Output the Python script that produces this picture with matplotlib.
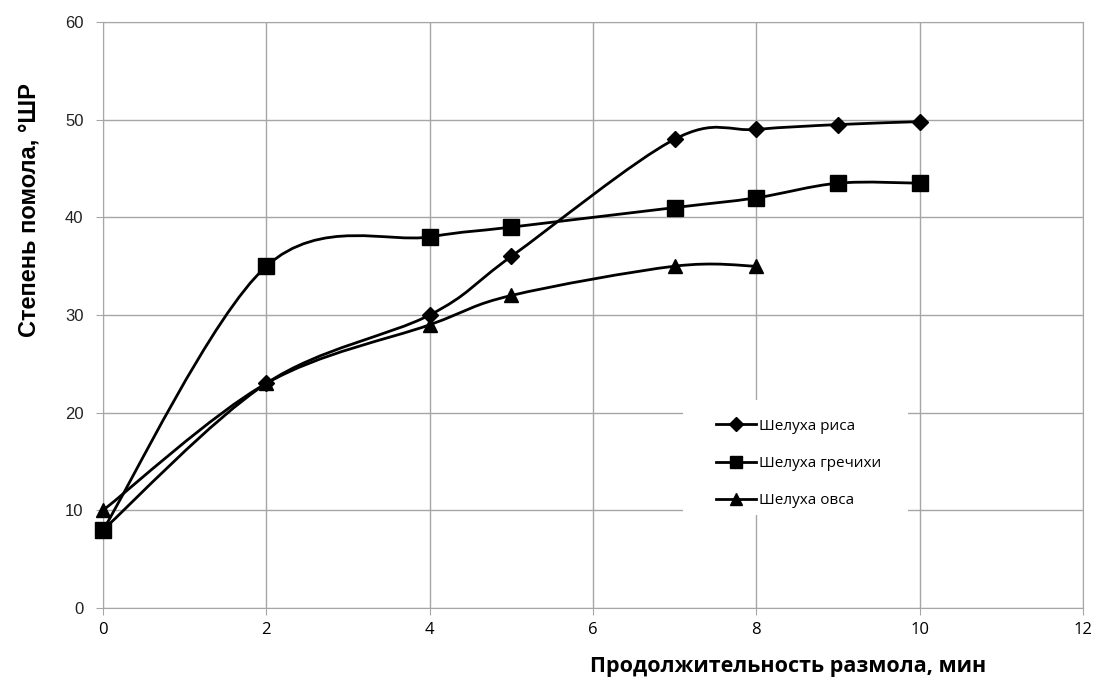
import numpy as np
import matplotlib
matplotlib.use("Agg")
import matplotlib.pyplot as plt
from matplotlib.path import Path
from matplotlib.patches import PathPatch, Rectangle
from matplotlib.lines import Line2D

# данные
t_ris = [0, 2, 4, 5, 7, 8, 9, 10]
ris = [8, 23, 30, 36, 48, 49, 49.5, 49.8]
t_grech = [0, 2, 4, 5, 7, 8, 9, 10]
grech = [8, 35, 38, 39, 41, 42, 43.5, 43.5]
t_oves = [0, 2, 4, 5, 7, 8]
oves = [10, 23, 29, 32, 35, 35]
names = ["Шелуха риса", "Шелуха гречихи", "Шелуха овса"]
markers = ["D", "s", "^"]
msizes = [8, 11, 10]


def sglazh(x, y):
    # сглаженная линия как в Excel (кривые Безье)
    p = np.column_stack([x, y]).astype(float)
    n = len(p)
    verts = [p[0]]
    codes = [Path.MOVETO]
    for i in range(n - 1):
        p0 = p[i - 1] if i > 0 else p[i]
        p3 = p[i + 2] if i + 2 < n else p[i + 1]
        c1 = p[i] + (p[i + 1] - p0) / 6.0
        c2 = p[i + 1] - (p3 - p[i]) / 6.0
        verts += [c1, c2, p[i + 1]]
        codes += [Path.CURVE4] * 3
    return Path(verts, codes)


fig = plt.figure(figsize=(10.97, 6.84), dpi=100)
ax = fig.add_axes([0.0939, 0.1111, 0.8933, 0.8567])

seria = [(t_ris, ris), (t_grech, grech), (t_oves, oves)]
for (x, y), m, ms in zip(seria, markers, msizes):
    ax.add_patch(PathPatch(sglazh(x, y), fill=False, edgecolor="black", lw=2.0, zorder=3))
    ax.plot(x, y, ls="", marker=m, ms=ms, color="black", zorder=4, clip_on=False)

ax.set_xlim(0, 12)
ax.set_ylim(0, 60)
ax.set_xticks(range(0, 13, 2))
ax.set_yticks(range(0, 61, 10))
ax.grid(True, color="#a6a6a6", lw=1.0)
ax.set_axisbelow(True)
for s in ax.spines.values():
    s.set_color("#a6a6a6")
ax.tick_params(axis="y", length=5, color="#a6a6a6", labelsize=12, pad=9,
               labelcolor="#222222")
ax.tick_params(axis="x", length=5, color="#a6a6a6", labelsize=12, pad=5)
for lab in ax.get_yticklabels():
    lab.set_fontfamily("Liberation Sans")
for lab in ax.get_xticklabels():
    lab.set_fontfamily("Open Sans")

# белый фон легенды
ax.add_patch(Rectangle((0.592, 0.1587), 0.2296, 0.1962, transform=ax.transAxes,
                       facecolor="white", edgecolor="none", zorder=2))
handles = [Line2D([], [], color="black", lw=2.0, marker=m, ms=ms * 0.85)
           for m, ms in zip(markers, msizes)]
leg = ax.legend(handles, names, loc="upper left", bbox_to_anchor=(0.626, 0.323),
                frameon=False, borderpad=0, borderaxespad=0,
                handlelength=2.6, handletextpad=0.2, labelspacing=1.45,
                prop={"family": "Open Sans", "size": 11})
leg.set_zorder(5)

fig.text(0.026, 0.693, "Степень помола, °ШР", rotation=90, ha="center", va="center",
         fontsize=17, fontweight="bold", family="Liberation Sans")
fig.text(0.718, 0.025, "Продолжительность размола, мин", ha="center", va="center",
         fontsize=15.5, fontweight="bold", family="Open Sans")

fig.savefig("out.png", dpi=100)
